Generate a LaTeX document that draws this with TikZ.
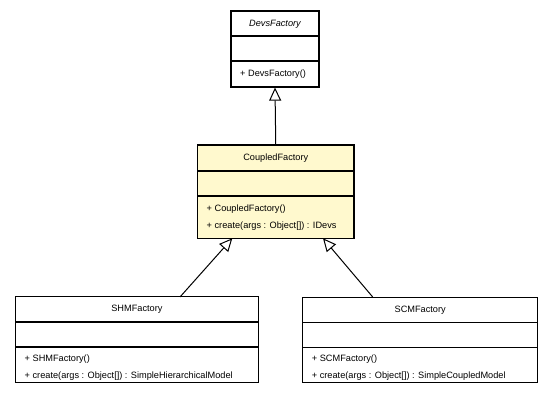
\documentclass[tikz,border=0pt]{standalone}
\usepackage{fontspec}
\setmainfont{Liberation Sans}
\usetikzlibrary{arrows.meta}
\definecolor{noteyellow}{RGB}{255,249,206}
\tikzset{
  classbox/.style={draw=black, line width=1.2pt, inner sep=0pt, fill=white},
  sep/.style={draw=black, line width=1.8pt},
  cname/.style={font=\fontsize{9.2}{11}\selectfont, inner sep=0pt, anchor=center},
  member/.style={font=\fontsize{9.2}{11}\selectfont, inner sep=0pt, anchor=west},
  inherit/.style={draw=black, line width=1pt, -{Triangle[open, length=13pt, width=12pt, fill=white]}},
}
\begin{document}
\begin{tikzpicture}[x=1pt, y=-1pt]
\useasboundingbox (0,0) rectangle (544,401);
% DevsFactory
\node[classbox, minimum width=88pt, minimum height=76pt] (devs) at (275,49) {};
\draw[sep] (231,36.3) -- (319,36.3);
\draw[sep] (231,61.3) -- (319,61.3);
\node[cname] (devsname) at (275,24) {\itshape DevsFactory};
\node[member] (devsm1) at (240,74.3) {+ DevsFactory()};
% CoupledFactory
\node[classbox, fill=noteyellow, minimum width=156.5pt, minimum height=93.3pt] (coupled) at (275.75,191.65) {};
\draw[sep] (197.5,171) -- (354,171);
\draw[sep] (197.5,195.7) -- (354,195.7);
\node[cname] (coupledname) at (275.75,158) {CoupledFactory};
\node[member] (coupledm1) at (206.5,209) {+ CoupledFactory()};
\node[member] (coupledm2) at (206.5,225.7) {+ create(args : Object[]) : IDevs};
% SHMFactory
\node[classbox, minimum width=242.8pt, minimum height=86pt] (shm) at (136.9,339.7) {};
\draw[sep] (15.5,322.3) -- (258.3,322.3);
\draw[sep] (15.5,347.3) -- (258.3,347.3);
\node[cname] (shmname) at (136.9,309.5) {SHMFactory};
\node[member] (shmm1) at (24.5,359) {+ SHMFactory()};
\node[member] (shmm2) at (24.5,375.7) {+ create(args : Object[]) : SimpleHierarchicalModel};
% SCMFactory
\node[classbox, minimum width=235pt, minimum height=85.7pt] (scm) at (420.2,340) {};
\draw[sep] (302.7,322.5) -- (537.7,322.5);
\draw[sep] (302.7,347.5) -- (537.7,347.5);
\node[cname] (scmname) at (420.2,309.8) {SCMFactory};
\node[member] (scmm1) at (311.7,359) {+ SCMFactory()};
\node[member] (scmm2) at (311.7,375.7) {+ create(args : Object[]) : SimpleCoupledModel};
% connectors
\coordinate (shmtop) at (180,297);
\coordinate (scmtop) at (372.7,297);
\coordinate (cplL) at (232.3,238.3);
\coordinate (cplR) at (323,238.3);
\draw[inherit] (coupled.north) -- (devs.south);
\draw[inherit] (shmtop) -- (cplL);
\draw[inherit] (scmtop) -- (cplR);
\end{tikzpicture}
\end{document}
